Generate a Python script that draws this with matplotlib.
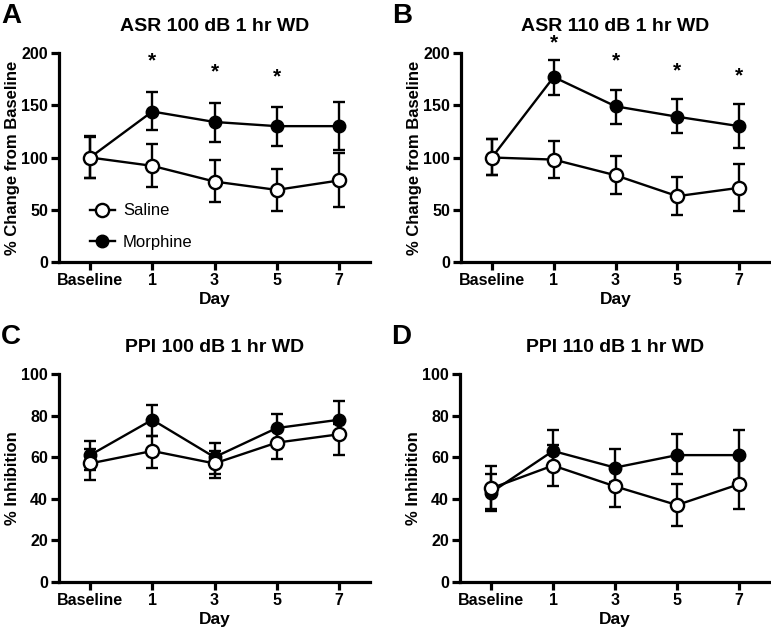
import numpy as np
import matplotlib
matplotlib.use('Agg')
import matplotlib.pyplot as plt
from matplotlib.lines import Line2D

plt.rcParams['font.family'] = ['Liberation Sans', 'DejaVu Sans']

# x categories
days = ['Baseline', '1', '3', '5', '7']

# ASR 100 dB
asr100_sal = [100, 92, 77, 69, 78]
asr100_sal_lo = [80, 72, 57, 49, 53]
asr100_sal_hi = [120, 113, 98, 89, 104]
asr100_mor = [100, 144, 134, 130, 130]
asr100_mor_lo = [80, 126, 115, 111, 107]
asr100_mor_hi = [121, 163, 152, 148, 153]
asr100_star_days = [1, 2, 3]
asr100_star_y = [192, 182, 177]

# ASR 110 dB
asr110_sal = [100, 98, 83, 63, 71]
asr110_sal_lo = [83, 80, 65, 45, 49]
asr110_sal_hi = [118, 116, 101, 81, 94]
asr110_mor = [100, 177, 149, 139, 130]
asr110_mor_lo = [83, 160, 132, 123, 109]
asr110_mor_hi = [118, 193, 165, 156, 151]
asr110_star_days = [1, 2, 3, 4]
asr110_star_y = [210, 192, 183, 178]

# PPI 100 dB
ppi100_sal = [57, 63, 57, 67, 71]
ppi100_sal_lo = [49, 55, 50, 59, 61]
ppi100_sal_hi = [64, 70, 63, 73, 76]
ppi100_mor = [61, 78, 60, 74, 78]
ppi100_mor_lo = [54, 70, 52, 66, 70]
ppi100_mor_hi = [68, 85, 67, 81, 87]

# PPI 110 dB
ppi110_sal = [45, 56, 46, 37, 47]
ppi110_sal_lo = [35, 46, 36, 27, 35]
ppi110_sal_hi = [56, 66, 56, 47, 60]
ppi110_mor = [43, 63, 55, 61, 61]
ppi110_mor_lo = [34, 56, 48, 52, 49]
ppi110_mor_hi = [52, 73, 64, 71, 73]

W, H = 771., 632.

def make_axes(fig, left, right, top, bottom):
    return fig.add_axes([left/W, 1-bottom/H, (right-left)/W, (bottom-top)/H])

def panel(ax, sal, sal_lo, sal_hi, mor, mor_lo, mor_hi, title, ylabel, ymax, yticks, legend=False):
    x = np.arange(len(days))
    mor = np.array(mor); sal = np.array(sal)
    ax.errorbar(x, mor, yerr=[mor-np.array(mor_lo), np.array(mor_hi)-mor], color='k',
                marker='o', markersize=9, markerfacecolor='k', lw=1.7, elinewidth=1.7,
                capsize=4.5, capthick=1.7, zorder=3, clip_on=False)
    ax.errorbar(x, sal, yerr=[sal-np.array(sal_lo), np.array(sal_hi)-sal], color='k',
                marker='o', markersize=9.5, markerfacecolor='white', markeredgewidth=1.7,
                lw=1.7, elinewidth=1.7, capsize=4.5, capthick=1.7, zorder=4, clip_on=False)
    ax.set_xlim(-0.5, 4.5)
    ax.set_ylim(0, ymax)
    ax.set_xticks(x)
    ax.set_xticklabels(days)
    ax.set_yticks(yticks)
    for s in ['top', 'right']:
        ax.spines[s].set_visible(False)
    for s in ['left', 'bottom']:
        ax.spines[s].set_linewidth(2.3)
    ax.tick_params(width=2.3, length=6, labelsize=11.5, pad=2)
    for t in ax.get_xticklabels() + ax.get_yticklabels():
        t.set_fontweight('bold')
    ax.set_xlabel('Day', fontsize=12.5, fontweight='bold', labelpad=3)
    ax.set_ylabel(ylabel, fontsize=12, fontweight='bold', labelpad=1)
    ax.set_title(title, fontsize=14, fontweight='bold', pad=16)
    if legend:
        h1 = Line2D([], [], color='k', lw=1.7, marker='o', markersize=9.5,
                    markerfacecolor='white', markeredgewidth=1.7)
        h2 = Line2D([], [], color='k', lw=1.7, marker='o', markersize=9, markerfacecolor='k')
        ax.legend([h1, h2], ['Saline', 'Morphine'], loc='lower left',
                  bbox_to_anchor=(0.05, -0.015), frameon=False, fontsize=12,
                  handlelength=1.5, labelspacing=1.0, handletextpad=0.5)

fig = plt.figure(figsize=(7.71, 6.32), dpi=100)

axA = make_axes(fig, 59, 370, 53, 262)
panel(axA, asr100_sal, asr100_sal_lo, asr100_sal_hi, asr100_mor, asr100_mor_lo, asr100_mor_hi,
      'ASR 100 dB 1 hr WD', '% Change from Baseline', 200, [0, 50, 100, 150, 200], legend=True)
for d, yv in zip(asr100_star_days, asr100_star_y):
    axA.text(d, yv, '*', ha='center', va='center', fontsize=15, fontweight='bold')

axB = make_axes(fig, 461, 770, 53, 262)
panel(axB, asr110_sal, asr110_sal_lo, asr110_sal_hi, asr110_mor, asr110_mor_lo, asr110_mor_hi,
      'ASR 110 dB 1 hr WD', '% Change from Baseline', 200, [0, 50, 100, 150, 200])
for d, yv in zip(asr110_star_days, asr110_star_y):
    axB.text(d, yv, '*', ha='center', va='center', fontsize=15, fontweight='bold')

axC = make_axes(fig, 59, 370, 374, 582)
panel(axC, ppi100_sal, ppi100_sal_lo, ppi100_sal_hi, ppi100_mor, ppi100_mor_lo, ppi100_mor_hi,
      'PPI 100 dB 1 hr WD', '% Inhibition', 100, [0, 20, 40, 60, 80, 100])

axD = make_axes(fig, 460, 770, 374, 582)
panel(axD, ppi110_sal, ppi110_sal_lo, ppi110_sal_hi, ppi110_mor, ppi110_mor_lo, ppi110_mor_hi,
      'PPI 110 dB 1 hr WD', '% Inhibition', 100, [0, 20, 40, 60, 80, 100])

# panel letters
for lab, xp, yp in [('A', 1, 3), ('B', 392, 3), ('C', 1, 324), ('D', 391, 324)]:
    fig.text(xp/W, 1-yp/H, lab, fontsize=20, fontweight='bold', va='top', ha='left')

plt.savefig('out.png', dpi=100)
